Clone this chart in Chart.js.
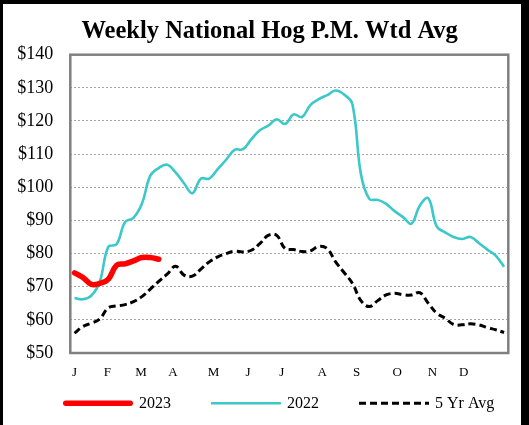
<!DOCTYPE html>
<html lang="en">
<head>
  <meta charset="UTF-8" />
  <title>Weekly National Hog P.M. Wtd Avg</title>
  <script src="https://cdn.jsdelivr.net/npm/chart.js@4"></script>
  <style>
    html, body { margin: 0; padding: 0; background: #fff; }
    .frame {
      width: 518px; height: 421px; background: #fff;
      border-left: 3px solid #000; border-top: 4px solid #000; border-right: 8px solid #000;
    }
    canvas { display: block; }
  </style>
</head>
<body>

  <div class="frame"><canvas id="hogChart" width="518" height="421"></canvas></div>

  <script>
    // month letters and the week (0-51) each one sits under
    const months = ["J", "F", "M", "A", "M", "J", "J", "A", "S", "O", "N", "D"];
    const monthWeeks = [0, 3.9, 7.9, 11.7, 16.5, 20.6, 24.6, 29.4, 33.5, 38.3, 42.5, 46.2];

    const prices2023 = [74.2, 72.8, 70.7, 71.0, 72.2, 76.5, 76.9, 77.8, 78.8, 78.8, 78.3];

    const prices2022 = [66.6, 66.2, 67.3, 71.5, 82.0, 82.8, 89.5, 90.8, 95.0, 103.5,
      105.8, 106.8, 104.5, 101.2, 98.2, 102.6, 102.6, 105.5, 108.3, 111.3,
      111.5, 114.5, 117.2, 118.6, 120.5, 119.1, 122.0, 121.2, 124.8, 126.6,
      127.8, 129.2, 128.0, 125.0, 104.0, 96.5, 96.2, 95.0, 92.8, 91.0,
      89.0, 94.5, 96.7, 88.2, 86.4, 85.0, 84.4, 85.0, 83.2, 81.2,
      79.4, 76.0];

    const avg5yr = [56.0, 58.0, 59.0, 60.3, 63.6, 64.2, 64.6, 65.5, 67.0, 69.3,
      71.6, 73.8, 76.2, 73.5, 73.2, 75.3, 77.5, 79.0, 80.0, 80.7,
      80.5, 81.0, 83.0, 85.5, 85.5, 81.5, 81.2, 80.6, 80.8, 82.2,
      81.5, 77.5, 74.3, 71.0, 65.8, 64.0, 65.8, 67.5, 68.0, 67.6,
      67.5, 68.2, 65.0, 62.0, 60.5, 58.6, 58.5, 58.8, 58.5, 57.7,
      57.0, 56.2];

    const serif = "'Liberation Serif', 'Times New Roman', serif";
    const toPoints = arr => arr.map((v, i) => ({ x: i, y: v }));

    // the title sits a little right of the canvas centre
    const titleShift = {
      id: 'titleShift',
      afterLayout(chart) {
        if (chart.titleBlock) {
          chart.titleBlock.left += 14;
          chart.titleBlock.right += 14;
        }
      }
    };

    // grey box round the plot area
    const plotBox = {
      id: 'plotBox',
      beforeDatasetsDraw(chart) {
        const { ctx, chartArea: a } = chart;
        ctx.save();
        ctx.strokeStyle = '#808080';
        ctx.lineWidth = 2.5;
        ctx.strokeRect(a.left, a.top, a.right - a.left, a.bottom - a.top);
        ctx.restore();
      }
    };

    // legend under the axis, Excel style
    const bottomLegend = {
      id: 'bottomLegend',
      afterDraw(chart) {
        const ctx = chart.ctx;
        const y = 399.3;
        let x = 60;
        ctx.save();
        ctx.font = '16px ' + serif;
        ctx.textBaseline = 'middle';
        chart.data.datasets.forEach(ds => {
          const inset = ds.borderCapStyle === 'round' ? ds.borderWidth / 2 : 0;
          ctx.beginPath();
          ctx.strokeStyle = ds.borderColor;
          ctx.lineWidth = ds.borderWidth;
          ctx.lineCap = ds.borderCapStyle || 'butt';
          ctx.setLineDash(ds.borderDash || []);
          ctx.moveTo(x + inset, y);
          ctx.lineTo(x + 70 - inset, y);
          ctx.stroke();
          ctx.setLineDash([]);
          ctx.fillStyle = '#000';
          ctx.fillText(ds.label, x + 76, y);
          x += 76 + ctx.measureText(ds.label).width + 40;
        });
        ctx.restore();
      }
    };

    new Chart(document.getElementById("hogChart").getContext("2d"), {
      type: 'line',
      data: {
        datasets: [
          {
            label: '2023',
            data: toPoints(prices2023),
            borderColor: '#ff0000',
            borderWidth: 5.5,
            borderCapStyle: 'round',
            pointRadius: 0,
            tension: 0.4
          },
          {
            label: '2022',
            data: toPoints(prices2022),
            borderColor: '#3cc8c8',
            borderWidth: 2.6,
            pointRadius: 0,
            tension: 0.4
          },
          {
            label: '5 Yr Avg',
            data: toPoints(avg5yr),
            borderColor: '#000000',
            borderWidth: 3,
            borderDash: [7, 4],
            pointRadius: 0,
            tension: 0.4
          }
        ]
      },
      options: {
        responsive: false,
        animation: false,
        devicePixelRatio: 1,
        layout: { padding: { left: 0, right: 12.7, top: 0, bottom: 44 } },
        plugins: {
          legend: { display: false },
          tooltip: { enabled: false },
          title: {
            display: true,
            text: 'Weekly National Hog P.M. Wtd Avg',
            color: '#000',
            font: { family: serif, size: 24.5, weight: 'bold' },
            padding: { top: 13, bottom: 8.3 }
          }
        },
        scales: {
          x: {
            type: 'linear',
            min: -0.5,
            max: 51.5,
            afterBuildTicks: s => { s.ticks = monthWeeks.map(v => ({ value: v })); },
            afterFit: s => { s.height = 28; },
            ticks: {
              autoSkip: false,
              maxRotation: 0,
              padding: 4,
              color: '#000',
              font: { family: serif, size: 13 },
              callback: (v, i) => months[i]
            },
            grid: { display: false },
            border: { display: false }
          },
          y: {
            min: 50,
            max: 140,
            afterFit: s => { s.width = 67.3; },
            ticks: {
              stepSize: 10,
              padding: 17,
              color: '#000',
              font: { family: serif, size: 18 },
              callback: v => '$' + v
            },
            grid: { color: '#a6a6a6', lineWidth: 1, drawTicks: false },
            border: { display: false, dash: [2, 2] }
          }
        }
      },
      plugins: [titleShift, plotBox, bottomLegend]
    });
  </script>

</body>
</html>
